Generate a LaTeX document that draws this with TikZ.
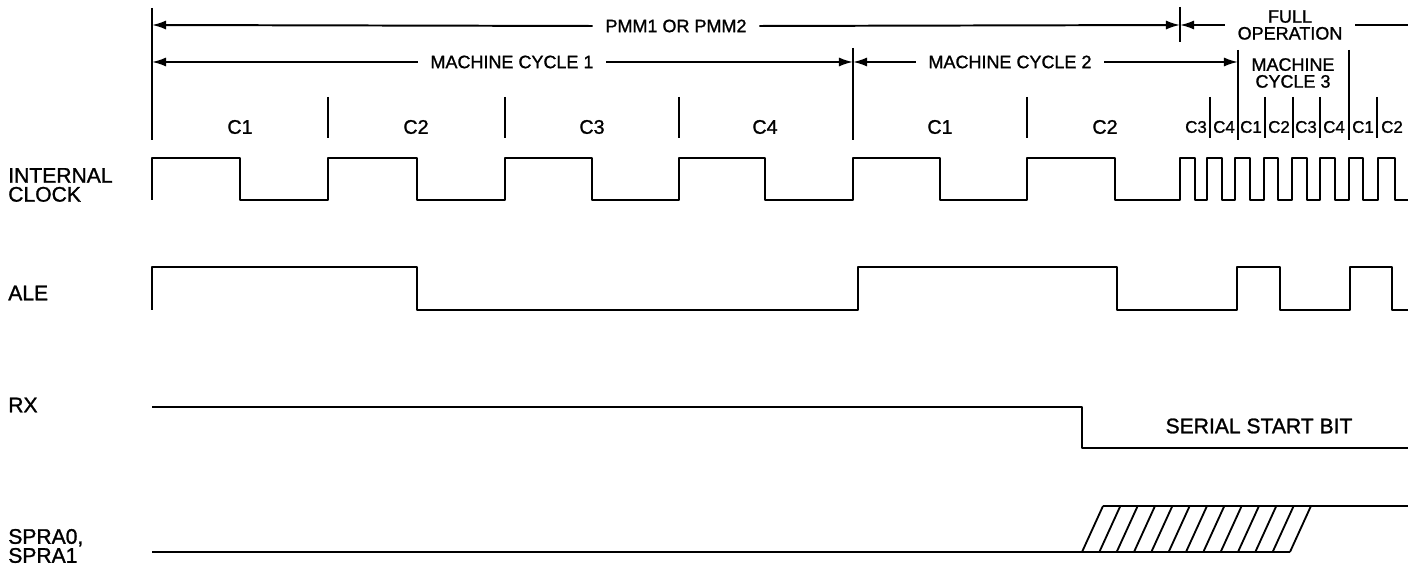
\documentclass[tikz,border=0pt]{standalone}
\usepackage{fontspec}
\setmainfont{Liberation Sans}[BoldFont={Liberation Sans},
                              BoldFeatures={FakeBold=1.2}]
\usetikzlibrary{arrows.meta}

\begin{document}
\begin{tikzpicture}[
  x=0.025cm, y=-0.025cm,
  every node/.style = {inner sep=0pt},
  siglabel/.style   = {anchor=west, align=left,
                       font=\bfseries\fontsize{15}{13.5}\selectfont},
  toplabel/.style   = {align=center, inner xsep=9pt,
                       font=\bfseries\fontsize{12.8}{12}\selectfont},
  cyclabel/.style   = {font=\bfseries\fontsize{14}{14}\selectfont},
  minilabel/.style  = {font=\bfseries\fontsize{12}{12}\selectfont},
  wave/.style       = {line width=2pt, line join=round},
  hatch/.style      = {line width=1.3pt},
  dimline/.style    = {line width=1.4pt},
  tickline/.style   = {line width=1.6pt},
  arrR/.style       = {dimline, -{Latex[length=10pt, width=6.5pt]}},
  arrL/.style       = {dimline, {Latex[length=10pt, width=6.5pt]}-},
]
\useasboundingbox (0,0) rectangle (1408,569);

%% ══ SIGNAL NAMES ═════════════════════════════════════════════════════════
\node[siglabel] at (8,185) (clkname)  {INTERNAL\\CLOCK};
\node[siglabel] at (8,293) (alename)  {ALE};
\node[siglabel] at (8,405) (rxname)   {RX};
\node[siglabel] at (8,546) (spraname) {SPRA0,\\SPRA1};

%% ══ PERIOD LABELS ════════════════════════════════════════════════════════
\node[toplabel] at (676,26)  (pmm)    {PMM1 OR PMM2};
\node[toplabel] at (1290,25) (fullop) {FULL\\OPERATION};
\node[toplabel] at (512,62)  (mc1)    {MACHINE CYCLE 1};
\node[toplabel] at (1010,62) (mc2)    {MACHINE CYCLE 2};
\node[toplabel] at (1293,73) (mc3)    {MACHINE\\CYCLE 3};

%% ── boundary marks ──────────────────────────────────────────────────────
\draw[tickline] (152,8)   -- (152,140);
\draw[tickline] (1180,7)  -- (1180,42);
\draw[tickline] (853,48)  -- (853,140);
\draw[tickline] (1238,50) -- (1238,140);
\draw[tickline] (1349,50) -- (1349,140);
\foreach \x in {328,505,679,1027,1210,1265,1293,1320,1377}
  \draw[tickline] (\x,97) -- (\x,138);

%% ── span arrows ─────────────────────────────────────────────────────────
\draw[arrL] (152,25)  -- (pmm.west);
\draw[arrR] (pmm.east) -- (1180,25);
\draw[arrL] (1180,25) -- (fullop.west);
\draw[dimline] (fullop.east) -- (1408,25);

\draw[arrL] (152,62)  -- (mc1.west);
\draw[arrR] (mc1.east) -- (853,62);
\draw[arrL] (853,62)  -- (mc2.west);
\draw[arrR] (mc2.east) -- (1238,62);

%% ── clock states ────────────────────────────────────────────────────────
\foreach \x/\c [count=\i] in {240/C1, 416/C2, 592/C3, 765/C4, 940/C1, 1105/C2}
  \node[cyclabel] (cyc\i) at (\x,127) {\c};
\foreach \x/\c [count=\i] in {1196/C3, 1224/C4, 1251/C1, 1279/C2,
                              1306/C3, 1334/C4, 1363/C1, 1392/C2}
  \node[minilabel] (mini\i) at (\x,127) {\c};

%% ══ WAVEFORMS ════════════════════════════════════════════════════════════
%% internal clock
\draw[wave] (152,200)
  foreach \r/\f in {152/240, 328/417, 505/592, 679/765, 853/940, 1027/1115,
                    1180/1195, 1207/1222, 1235/1250, 1264/1278, 1292/1307,
                    1320/1335, 1349/1363, 1378/1395}
  { -- (\r,200) -- (\r,158) -- (\f,158) -- (\f,200) }
  -- (1408,200);

%% ALE
\draw[wave] (152,310)
  foreach \r/\f in {152/417, 858/1117, 1237/1280, 1350/1392}
  { -- (\r,310) -- (\r,267) -- (\f,267) -- (\f,310) }
  -- (1408,310);

%% RX
\draw[wave] (152,407) -- (1082,407) -- (1082,448) -- (1408,448);
\node[font=\bfseries\fontsize{15}{15}\selectfont] (startbit) at (1259,426)
  {SERIAL START BIT};

%% SPRA0, SPRA1
\draw[wave] (152,552)  -- (1290,552);
\draw[wave] (1103,506) -- (1408,506);
\foreach \i in {0,...,12}
  \draw[hatch] ({1082+17.33*\i},552) -- ++(21,-46);

\end{tikzpicture}
\end{document}
